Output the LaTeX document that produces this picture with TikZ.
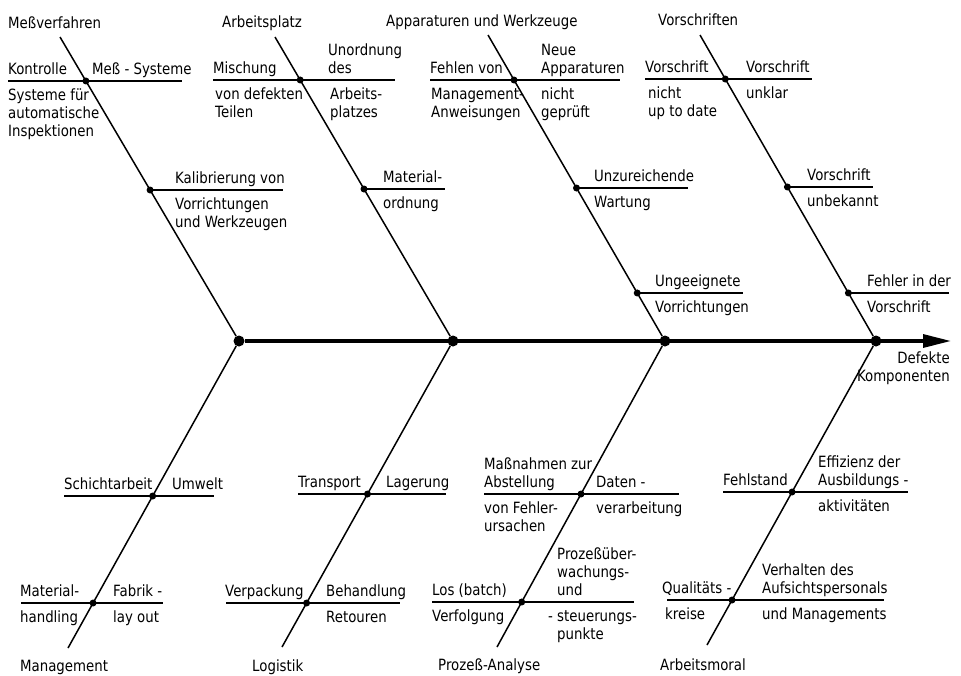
\documentclass[tikz,border=0pt]{standalone}
\usepackage{fontspec}
\setmainfont{DejaVu Sans}[FakeStretch=0.86]
\usetikzlibrary{calc,arrows.meta}
\begin{document}
\begin{tikzpicture}[x=1pt,y=-1pt,
  bone/.style={line width=1.5pt},
  ribline/.style={line width=1.1pt},
  spineline/.style={line width=3.2pt},
  bigdot/.style={circle,fill,inner sep=0pt,minimum size=11pt},
  smalldot/.style={circle,fill,inner sep=0pt,minimum size=7pt},
  lbl/.style={anchor=base west,inner sep=0pt,align=left,font=\fontsize{15.5}{18}\selectfont},
  head/.style={anchor=base west,inner sep=0pt,font=\fontsize{15.5}{18}\selectfont}]
\useasboundingbox (0,0) rectangle (961,675);

% spine
\node[bigdot] (s1) at (239,341) {};
\node[bigdot] (s2) at (453,341) {};
\node[bigdot] (s3) at (665,341) {};
\node[bigdot] (s4) at (876,341) {};
\coordinate (tip) at (951,341);
\draw[spineline,-{Triangle[length=28pt,width=13pt]}] (s1) -- (tip);
\node[lbl,anchor=base east,align=right] (eff) at (950,381) {Defekte\\Komponenten};

% bone ends
\coordinate (m0) at (60,37);
\coordinate (a0) at (275,37);
\coordinate (w0) at (488,35);
\coordinate (v0) at (700,35);
\coordinate (g0) at (68,648);
\coordinate (l0) at (282,647);
\coordinate (p0) at (497,647);
\coordinate (r0) at (707,645);
\draw[bone] (m0) -- (s1);
\draw[bone] (a0) -- (s2);
\draw[bone] (w0) -- (s3);
\draw[bone] (v0) -- (s4);
\draw[bone] (g0) -- (s1);
\draw[bone] (l0) -- (s2);
\draw[bone] (p0) -- (s3);
\draw[bone] (r0) -- (s4);

% headers
\node[head] (hM) at (8,28) {Meßverfahren};
\node[head] (hA) at (222,27) {Arbeitsplatz};
\node[head] (hW) at (386,26) {Apparaturen und Werkzeuge};
\node[head] (hV) at (658,25) {Vorschriften};
\node[head] (hG) at (20,671) {Management};
\node[head] (hL) at (252,671) {Logistik};
\node[head] (hP) at (438,670) {Prozeß-Analyse};
\node[head] (hR) at (660,670) {Arbeitsmoral};

% ---- Meßverfahren
\node[smalldot] (md1) at ($(m0)!0.1447!(s1)$) {};
\node[smalldot] (md2) at ($(m0)!0.5033!(s1)$) {};
\coordinate (m1l) at (8,81);   \coordinate (m1r) at (182,81);
\coordinate (m2l) at (150,190); \coordinate (m2r) at (283,190);
\draw[ribline] (m1l) -- (m1r);
\draw[ribline] (m2l) -- (m2r);
\node[lbl] (t1) at (8,74) {Kontrolle};
\node[lbl] (t2) at (92,74) {Meß - Systeme};
\node[lbl] (t3) at (8,136) {Systeme für\\automatische\\Inspektionen};
\node[lbl] (t4) at (175,183) {Kalibrierung von};
\node[lbl] (t5) at (175,227) {Vorrichtungen\\und Werkzeugen};

% ---- Arbeitsplatz
\node[smalldot] (ad1) at ($(a0)!0.1414!(s2)$) {};
\node[smalldot] (ad2) at ($(a0)!0.5!(s2)$) {};
\coordinate (a1l) at (213,80);  \coordinate (a1r) at (395,80);
\coordinate (a2l) at (364,189); \coordinate (a2r) at (445,189);
\draw[ribline] (a1l) -- (a1r);
\draw[ribline] (a2l) -- (a2r);
\node[lbl] (t6) at (213,73) {Mischung};
\node[lbl] (t7) at (328,73) {Unordnung\\des};
\node[lbl] (t8) at (215,117) {von defekten\\Teilen};
\node[lbl] (t9) at (330,117) {Arbeits-\\platzes};
\node[lbl] (t10) at (383,182) {Material-};
\node[lbl] (t11) at (383,208) {ordnung};

% ---- Apparaturen und Werkzeuge
\node[smalldot] (wd1) at ($(w0)!0.1471!(s3)$) {};
\node[smalldot] (wd2) at ($(w0)!0.5!(s3)$) {};
\node[smalldot] (wd3) at ($(w0)!0.8431!(s3)$) {};
\coordinate (w1l) at (430,80);  \coordinate (w1r) at (620,80);
\coordinate (w2l) at (577,188); \coordinate (w2r) at (688,188);
\coordinate (w3l) at (638,293); \coordinate (w3r) at (743,293);
\draw[ribline] (w1l) -- (w1r);
\draw[ribline] (w2l) -- (w2r);
\draw[ribline] (w3l) -- (w3r);
\node[lbl] (t12) at (430,73) {Fehlen von};
\node[lbl] (t13) at (541,73) {Neue\\Apparaturen};
\node[lbl] (t14) at (431,117) {Management-\\Anweisungen};
\node[lbl] (t15) at (541,117) {nicht\\geprüft};
\node[lbl] (t16) at (594,181) {Unzureichende};
\node[lbl] (t17) at (594,207) {Wartung};
\node[lbl] (t18) at (655,286) {Ungeeignete};
\node[lbl] (t19) at (655,312) {Vorrichtungen};

% ---- Vorschriften
\node[smalldot] (vd1) at ($(v0)!0.1438!(s4)$) {};
\node[smalldot] (vd2) at ($(v0)!0.4967!(s4)$) {};
\node[smalldot] (vd3) at ($(v0)!0.8431!(s4)$) {};
\coordinate (v1l) at (645,79);  \coordinate (v1r) at (812,79);
\coordinate (v2l) at (788,187); \coordinate (v2r) at (873,187);
\coordinate (v3l) at (849,293); \coordinate (v3r) at (949,293);
\draw[ribline] (v1l) -- (v1r);
\draw[ribline] (v2l) -- (v2r);
\draw[ribline] (v3l) -- (v3r);
\node[lbl] (t20) at (645,72) {Vorschrift};
\node[lbl] (t21) at (648,116) {nicht\\up to date};
\node[lbl] (t22) at (746,72) {Vorschrift};
\node[lbl] (t23) at (746,98) {unklar};
\node[lbl] (t24) at (807,180) {Vorschrift};
\node[lbl] (t25) at (807,206) {unbekannt};
\node[lbl] (t26) at (867,286) {Fehler in der};
\node[lbl] (t27) at (867,312) {Vorschrift};

% ---- Management
\node[smalldot] (gd1) at ($(s1)!0.5049!(g0)$) {};
\node[smalldot] (gd2) at ($(s1)!0.8534!(g0)$) {};
\coordinate (g1l) at (64,496);  \coordinate (g1r) at (214,496);
\coordinate (g2l) at (21,603);  \coordinate (g2r) at (163,603);
\draw[ribline] (g1l) -- (g1r);
\draw[ribline] (g2l) -- (g2r);
\node[lbl] (t28) at (64,489) {Schichtarbeit};
\node[lbl] (t29) at (172,489) {Umwelt};
\node[lbl] (t30) at (20,596) {Material-};
\node[lbl] (t31) at (20,622) {handling};
\node[lbl] (t32) at (113,596) {Fabrik -};
\node[lbl] (t33) at (113,622) {lay out};

% ---- Logistik
\node[smalldot] (ld1) at ($(s2)!0.5!(l0)$) {};
\node[smalldot] (ld2) at ($(s2)!0.8562!(l0)$) {};
\coordinate (l1l) at (298,494); \coordinate (l1r) at (446,494);
\coordinate (l2l) at (226,603); \coordinate (l2r) at (400,603);
\draw[ribline] (l1l) -- (l1r);
\draw[ribline] (l2l) -- (l2r);
\node[lbl] (t34) at (298,487) {Transport};
\node[lbl] (t35) at (386,487) {Lagerung};
\node[lbl] (t36) at (225,596) {Verpackung};
\node[lbl] (t37) at (326,596) {Behandlung};
\node[lbl] (t38) at (326,622) {Retouren};

% ---- Prozeß-Analyse
\node[smalldot] (pd1) at ($(s3)!0.5!(p0)$) {};
\node[smalldot] (pd2) at ($(s3)!0.8529!(p0)$) {};
\coordinate (p1l) at (484,494); \coordinate (p1r) at (679,494);
\coordinate (p2l) at (432,602); \coordinate (p2r) at (634,602);
\draw[ribline] (p1l) -- (p1r);
\draw[ribline] (p2l) -- (p2r);
\node[lbl] (t39) at (484,487) {Maßnahmen zur\\Abstellung};
\node[lbl] (t40) at (596,487) {Daten -};
\node[lbl] (t41) at (484,531) {von Fehler-\\ursachen};
\node[lbl] (t42) at (596,513) {verarbeitung};
\node[lbl] (t43) at (432,595) {Los (batch)};
\node[lbl] (t44) at (557,595) {Prozeßüber-\\wachungs-\\und};
\node[lbl] (t45) at (432,621) {Verfolgung};
\node[lbl] (t46) at (548,621) {- steuerungs-};
\node[lbl] (t47) at (557,639) {punkte};

% ---- Arbeitsmoral
\node[smalldot] (rd1) at ($(s4)!0.4967!(r0)$) {};
\node[smalldot] (rd2) at ($(s4)!0.852!(r0)$) {};
\coordinate (r1l) at (723,492); \coordinate (r1r) at (908,492);
\coordinate (r2l) at (667,600); \coordinate (r2r) at (884,600);
\draw[ribline] (r1l) -- (r1r);
\draw[ribline] (r2l) -- (r2r);
\node[lbl] (t48) at (723,485) {Fehlstand};
\node[lbl] (t49) at (818,485) {Effizienz der\\Ausbildungs -};
\node[lbl] (t50) at (818,511) {aktivitäten};
\node[lbl] (t51) at (662,593) {Qualitäts -};
\node[lbl] (t52) at (665,619) {kreise};
\node[lbl] (t53) at (762,593) {Verhalten des\\Aufsichtspersonals};
\node[lbl] (t54) at (762,619) {und Managements};
\end{tikzpicture}
\end{document}
